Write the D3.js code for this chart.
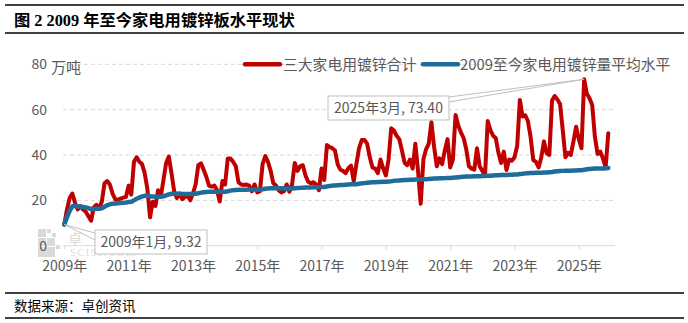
<!DOCTYPE html>
<html><head><meta charset="utf-8">
<script src="https://cdn.jsdelivr.net/npm/d3@7"></script>
<style>
body{margin:0;background:#fff;}
svg{display:block;}
</style></head><body>
<svg id="c" width="688" height="323"></svg>
<script>
const titleText = "图 2 2009 年至今家电用镀锌板水平现状";
const sourceText = "数据来源：卓创资讯";
const unitLabel = "万吨";
const seriesNames = ["三大家电用镀锌合计", "2009至今家电用镀锌量平均水平"];
const startYear = 2009;
// monthly values, Jan 2009 .. Dec 2025
const totalValues = [
  9.32, 16, 21, 23, 19, 16, 17.5, 16, 15, 13, 11, 17,
  18, 16.5, 19.4, 27.5, 28.5, 27, 23, 20.5, 20.2, 20.8, 21.2, 21.5,
  26.5, 22.5, 37, 39, 37, 36, 32, 25, 12.5, 19.4, 17.5, 24.5,
  21.5, 29, 36.5, 39.3, 32, 24, 21, 23, 20.5, 21.5, 22, 20,
  23, 27, 35.5, 36.3, 33.5, 30.4, 26.5, 26, 26.5, 24.5, 19.5, 28.5,
  27, 38.5, 38.5, 37, 35, 28, 27, 26.8, 27, 26.5, 24, 27,
  23.5, 24, 36, 39.5, 37, 33, 27.5, 26.5, 24.5, 23.5, 24, 27,
  23.8, 27, 36.5, 33, 35, 35.5, 31, 28.2, 27.5, 28, 27, 24.5,
  34, 29, 44.4, 43.5, 43, 42, 36, 33.5, 33, 32, 34.2, 35.3,
  28.5, 36, 43, 46.6, 46.6, 45, 39, 34.5, 34, 32, 38, 34,
  31, 38, 51.8, 50.8, 48.5, 47, 42, 36.5, 35.5, 38, 34, 45,
  33, 18.5, 38, 42.5, 45, 54.5, 43.5, 35, 38.5, 36, 42, 47,
  34.5, 38, 57.6, 53, 50, 47.5, 42.5, 35, 34, 33.5, 43, 35,
  33, 31, 55, 51, 48.5, 47.5, 41, 36.5, 41.5, 33.4, 38, 37.5,
  39, 44, 64.3, 57, 57.5, 55, 48, 37.8, 37, 34.5, 39, 46,
  40.8, 40, 64, 66, 64.5, 62.5, 51, 39, 41, 40, 46, 52.5,
  47, 43, 73.4, 67, 65, 62, 48, 40.5, 41.5, 38.5, 34.5, 49.6
];
const averageValues = [
  9.32, 12.6, 15.4, 17.3, 17.6, 17.3, 17.3, 17.1, 16.9, 16.6, 16.1, 16.2,
  16.3, 16.3, 16.5, 17.2, 17.8, 18.3, 18.5, 18.6, 18.7, 18.8, 18.9, 19.0,
  19.3, 19.4, 20.0, 20.7, 21.2, 21.7, 22.0, 22.1, 21.7, 21.7, 21.6, 21.6,
  21.6, 21.8, 22.2, 22.6, 22.9, 22.9, 22.9, 22.9, 22.8, 22.8, 22.8, 22.8,
  22.8, 22.9, 23.1, 23.4, 23.6, 23.7, 23.8, 23.8, 23.8, 23.8, 23.7, 23.8,
  23.8, 24.0, 24.3, 24.5, 24.6, 24.7, 24.7, 24.7, 24.7, 24.8, 24.8, 24.8,
  24.7, 24.7, 24.9, 25.1, 25.2, 25.3, 25.3, 25.3, 25.3, 25.3, 25.2, 25.2,
  25.2, 25.2, 25.3, 25.4, 25.5, 25.6, 25.7, 25.7, 25.7, 25.8, 25.8, 25.8,
  25.9, 25.9, 26.1, 26.3, 26.5, 26.6, 26.7, 26.8, 26.8, 26.9, 27.0, 27.1,
  27.1, 27.1, 27.3, 27.5, 27.6, 27.8, 27.9, 28.0, 28.0, 28.1, 28.1, 28.2,
  28.2, 28.3, 28.4, 28.6, 28.7, 28.8, 28.9, 29.0, 29.0, 29.1, 29.1, 29.2,
  29.2, 29.2, 29.3, 29.3, 29.4, 29.5, 29.6, 29.6, 29.7, 29.7, 29.8, 29.9,
  29.9, 30.0, 30.1, 30.2, 30.3, 30.4, 30.5, 30.5, 30.5, 30.6, 30.6, 30.6,
  30.7, 30.7, 30.8, 30.9, 31.0, 31.1, 31.1, 31.2, 31.2, 31.2, 31.3, 31.3,
  31.4, 31.4, 31.6, 31.7, 31.9, 32.0, 32.1, 32.1, 32.2, 32.2, 32.2, 32.3,
  32.3, 32.4, 32.5, 32.7, 32.8, 32.9, 33.0, 33.1, 33.1, 33.1, 33.2, 33.2,
  33.3, 33.3, 33.5, 33.7, 33.8, 33.9, 34.0, 34.0, 34.1, 34.1, 34.1, 34.3
];
const yTicks = [0, 20, 40, 60, 80];
const xTickLabels = ["2009年","2011年","2013年","2015年","2017年","2019年","2021年","2023年","2025年"];
const callouts = [
  {month: 0, value: 9.32, text: "2009年1月, 9.32"},
  {month: 194, value: 73.40, text: "2025年3月, 73.40"}
];

const svg = d3.select("#c");
const FONT = "'Noto Sans CJK SC','Noto Sans',sans-serif";
const GREY = "#595959";
const RED = "#c00000", BLUE = "#1f6c99";

const x = d3.scaleLinear().domain([0, 205.5]).range([64.3, 615]);
const y = d3.scaleLinear().domain([0, 80]).range([245.7, 64.3]);

// watermark (drawn first, behind everything)
const wm = svg.append("g").attr("fill","#dadada");
[[38,229,8,8],[47,229,4,4],[52,233,4,4],[47,238,8,8],[38,238,8,8],[38,247,17,10],[56,245,4,4]].forEach(r=>{
  wm.append("rect").attr("x",r[0]).attr("y",r[1]).attr("width",r[2]).attr("height",r[3]);
});
wm.append("text").attr("x",68).attr("y",244).text("卓").attr("font-family",FONT).attr("font-size",14);
wm.append("text").attr("x",70).attr("y",256).text("SCI99.COM").attr("font-family","'Liberation Serif',serif").attr("font-size",10).attr("letter-spacing",1.8);

// header / footer rules
svg.append("line").attr("x1",5).attr("x2",684).attr("y1",5).attr("y2",5).attr("stroke","#000").attr("stroke-width",1.5);
svg.append("line").attr("x1",5).attr("x2",684).attr("y1",33).attr("y2",33).attr("stroke","#000").attr("stroke-width",1.5);
svg.append("text").attr("x",14).attr("y",25.5).text(titleText)
  .attr("font-family","'Liberation Serif','Noto Sans CJK SC',serif").attr("font-weight","bold").attr("font-size",16.3).attr("fill","#000");
svg.append("line").attr("x1",5).attr("x2",684).attr("y1",293).attr("y2",293).attr("stroke","#000").attr("stroke-width",1.5);
svg.append("line").attr("x1",5).attr("x2",684).attr("y1",318).attr("y2",318).attr("stroke","#000").attr("stroke-width",1.5);
svg.append("text").attr("x",14).attr("y",311).text(sourceText)
  .attr("font-family","'Noto Sans CJK SC',sans-serif").attr("font-size",13.5).attr("fill","#000");

// gridlines
svg.append("g").selectAll("line").data(yTicks.filter(d=>d>0)).join("line")
  .attr("x1",63).attr("x2",615).attr("y1",d=>y(d)).attr("y2",d=>y(d))
  .attr("stroke","#d9d9d9").attr("stroke-dasharray","4,3");

// y axis
const ya = svg.append("g").attr("transform","translate(50,0)")
  .call(d3.axisLeft(y).tickValues(yTicks).tickSize(0).tickPadding(3));
ya.select(".domain").remove();
ya.selectAll("text").attr("font-family",FONT).attr("font-size",14).attr("fill",GREY);
svg.append("text").attr("x",51).attr("y",73).text(unitLabel)
  .attr("font-family",FONT).attr("font-size",15).attr("fill",GREY);

// x axis
const xa = svg.append("g").attr("transform",`translate(0,${y(0)})`)
  .call(d3.axisBottom(x).tickValues(xTickLabels.map((d,i)=>i*24))
    .tickFormat((d,i)=>xTickLabels[i]).tickSize(4).tickSizeOuter(0).tickPadding(11));
xa.select(".domain").attr("stroke","#d9d9d9").attr("d","M63,0H615");
xa.selectAll(".tick line").attr("stroke","#d9d9d9");
xa.selectAll("text").attr("font-family",FONT).attr("font-size",14).attr("fill",GREY);

// lines
const line = d3.line().x((d,i)=>x(i)).y(d=>y(d));
svg.append("path").datum(totalValues).attr("d",line).attr("fill","none")
  .attr("stroke",RED).attr("stroke-width",4).attr("stroke-linejoin","round").attr("stroke-linecap","round");
svg.append("path").datum(averageValues).attr("d",line).attr("fill","none")
  .attr("stroke",BLUE).attr("stroke-width",4.5).attr("stroke-linejoin","round").attr("stroke-linecap","round");

// legend
const lg = svg.append("g");
[[245,283,RED],[423,460,BLUE]].forEach((p,i)=>{
  lg.append("line").attr("x1",p[0]).attr("x2",p[0]+35).attr("y1",64.3).attr("y2",64.3)
    .attr("stroke",p[2]).attr("stroke-width",4.5).attr("stroke-linecap","round");
  lg.append("text").attr("x",p[1]).attr("y",69.5).text(seriesNames[i])
    .attr("font-family",FONT).attr("font-size",14.8).attr("fill",GREY);
});

// callouts
const boxes = [{x0:95,y0:230,w:112,h:24,ax:95,ay1:233,ay2:240},{x0:328,y0:96,w:121,h:24,ax:449,ay1:97,ay2:102}];
callouts.forEach((c,i)=>{
  const b = boxes[i];
  const px = x(c.month), py = y(c.value);
  svg.append("path").attr("d",`M${px},${py}L${b.ax},${b.ay1}M${px},${py}L${b.ax},${b.ay2}`)
    .attr("stroke","#bfbfbf").attr("fill","none").attr("stroke-width",1);
  svg.append("rect").attr("x",b.x0).attr("y",b.y0).attr("width",b.w).attr("height",b.h)
    .attr("fill","#fff").attr("stroke","#bfbfbf");
  svg.append("text").attr("x",b.x0+b.w/2).attr("y",b.y0+b.h/2+5).attr("text-anchor","middle")
    .text(c.text).attr("font-family",FONT).attr("font-size",14).attr("fill",GREY);
});
</script>
</body></html>
